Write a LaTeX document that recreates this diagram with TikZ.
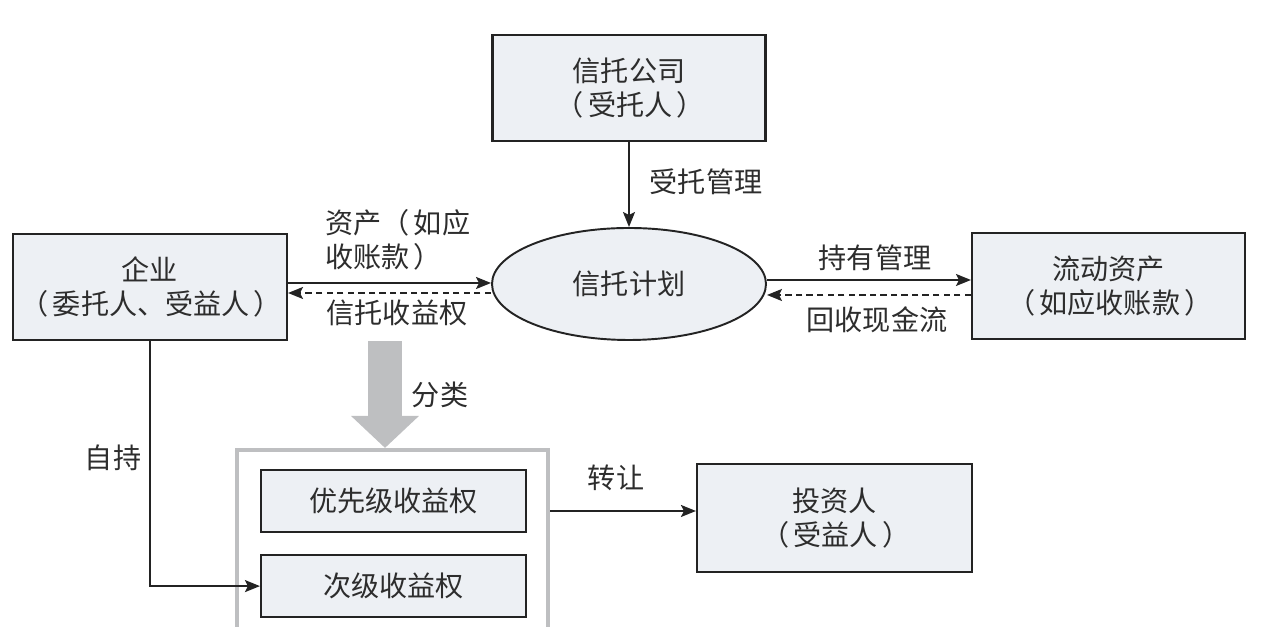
\documentclass[tikz,border=0pt]{standalone}
\usepackage{fontspec}
\setmainfont{Noto Sans CJK SC}
\usepackage{tikz}
\usepackage{xcolor}
\usetikzlibrary{positioning,arrows.meta,calc,shapes.geometric}
\definecolor{trtext}{RGB}{45,45,45}
\definecolor{trline}{RGB}{35,35,35}
\definecolor{trfill}{RGB}{237,240,244}
\definecolor{trgray}{RGB}{190,191,193}
\newcommand{\lpar}{\hspace{0.1em}（\hspace{0.15em}}
\newcommand{\rpar}{\hspace{0.15em}）\hspace{0.1em}}
\tikzset{
  box/.style={draw=trline, line width=1.2pt, fill=trfill, align=center, text=trtext, inner xsep=2pt, minimum width=5.46cm, minimum height=2.12cm, font=\fontsize{16pt}{19pt}\selectfont},
  tierbox/.style={draw=trline, line width=1.2pt, fill=trfill, align=center, text=trtext, minimum width=5.3cm, minimum height=1.24cm, font=\fontsize{16pt}{19pt}\selectfont},
  planshape/.style={ellipse, draw=trline, line width=1.1pt, fill=trfill, text=trtext, minimum width=5.48cm, minimum height=2.24cm, font=\fontsize{16pt}{19pt}\selectfont},
  lbl/.style={text=trtext, align=left, inner sep=0pt, font=\fontsize{16pt}{19pt}\selectfont},
  arrow/.style={-{Stealth[length=3mm, width=2.4mm, inset=0.6mm]}, line width=1.1pt, trline},
  backarrow/.style={arrow, dash pattern=on 3.6pt off 2.4pt},
  bigarrow/.style={-{Triangle[length=6.4mm, width=13.2mm]}, line width=6.8mm, trgray}
}

\begin{document}
\begin{tikzpicture}
    \clip (0,0) rectangle (25.6,12.54);
    \node[planshape] (plan) at (12.58,6.86) {信托计划};
    \node[box, above=1.7cm of plan] (trust) {信托公司\\\lpar 受托人\rpar};
    \node[box, minimum width=5.48cm, left=4.06cm of plan, yshift=-0.06cm] (ent) {企业\\\lpar 委托人、受益人\rpar};
    \node[box, right=4.08cm of plan, yshift=-0.04cm] (assets) {流动资产\\\lpar 如应收账款\rpar};
    \node[draw=trgray, line width=2.3pt, fill=white, minimum width=6.22cm, minimum height=4.14cm] (tranche) at (7.85,1.47) {};
    \node[tierbox] (pri) at (7.87,2.52) {优先级收益权};
    \node[tierbox, below=0.42cm of pri] (sub) {次级收益权};
    \node[box, minimum width=5.5cm, minimum height=2.16cm] (inv) at (16.69,2.18) {投资人\\\lpar 受益人\rpar};
    % labels
    \node[lbl, anchor=west] (lasset) at (6.5,7.74) {资产（\hspace{0.15em}如应\\收账款\rpar};
    \node[lbl] (lright) at (7.94,6.28) {信托收益权};
    \node[lbl] (lmanage) at (14.12,8.9) {受托管理};
    \node[lbl] (lhold) at (17.5,7.38) {持有管理};
    \node[lbl] (lcash) at (17.54,6.14) {回收现金流};
    \node[lbl] (lsplit) at (8.8,4.64) {分类};
    \node[lbl] (lsell) at (12.32,2.98) {转让};
    \node[lbl] (lkeep) at (2.26,3.38) {自持};
    % connectors
    \draw[arrow] (trust) -- (plan);
    \draw[arrow] ([yshift=0.08cm]ent.east) -- ([yshift=0.08cm]ent.east -| plan.west);
    \draw[backarrow] ([yshift=-0.12cm]ent.east -| plan.west) -- ([yshift=-0.12cm]ent.east);
    \draw[arrow] ([yshift=0.12cm]assets.west -| plan.east) -- ([yshift=0.12cm]assets.west);
    \draw[backarrow] ([yshift=-0.18cm]assets.west) -- ([yshift=-0.18cm]assets.west -| plan.east);
    \draw[bigarrow] ([xshift=-0.15cm]tranche.north |- ent.south) -- ([xshift=-0.15cm]tranche.north);
    \draw[arrow] ([yshift=0.85cm]tranche.east) -- ([yshift=0.85cm]tranche.east -| inv.west);
    \draw[arrow] (ent.south) |- (sub.west);
  \end{tikzpicture}
\end{document}
